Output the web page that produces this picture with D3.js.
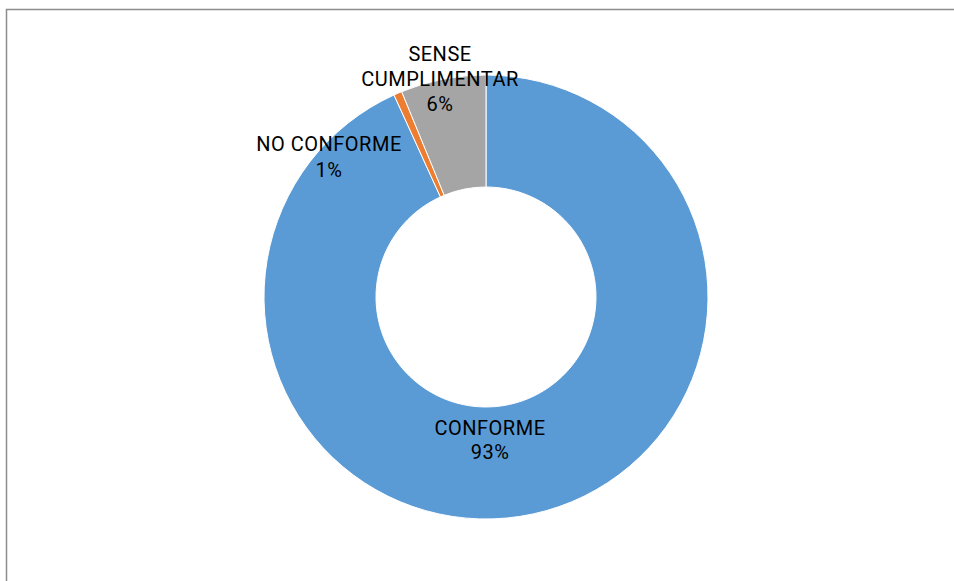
<!DOCTYPE html>
<html>
<head>
<meta charset="utf-8">
<script src="https://cdn.jsdelivr.net/npm/d3@7"></script>
<style>
  html, body { margin: 0; padding: 0; background: #fff; }
  svg { display: block; }
</style>
</head>
<body>
<svg id="chart" width="954" height="581"></svg>
<script>
// Data
const categories = ["CONFORME", "NO CONFORME", "SENSE CUMPLIMENTAR"];
const values = [93.2, 0.6, 6.2];
const colors = ["#5B9BD5", "#ED7D31", "#A5A5A5"];
const labelLines = [["CONFORME"], ["NO CONFORME"], ["SENSE", "CUMPLIMENTAR"]];

const svg = d3.select("#chart");
const cx = 486, cy = 297;
const outerR = 222, innerR = 110;

// chart area frame (only left & top visible)
svg.append("rect")
  .attr("x", 6.5).attr("y", 9.5)
  .attr("width", 1000).attr("height", 700)
  .attr("fill", "none")
  .attr("stroke", "#8c8c8c")
  .attr("stroke-width", 1.5);

const data = categories.map((c, i) => ({ cat: c, value: values[i], color: colors[i], lines: labelLines[i] }));
const total = d3.sum(values);

const pie = d3.pie().sort(null).value(d => d.value);
const arc = d3.arc().innerRadius(innerR).outerRadius(outerR);

const g = svg.append("g").attr("transform", `translate(${cx},${cy})`);
const arcs = pie(data);

g.selectAll("path.slice")
  .data(arcs)
  .enter().append("path")
  .attr("class", "slice")
  .attr("d", arc)
  .attr("fill", d => d.data.color)
  .attr("stroke", "#fff")
  .attr("stroke-width", 1);

// label placement (relative to donut centre), as Excel placed them
const labelPos = [
  { x: 4, y: 138 },
  { x: -157, y: -146 },
  { x: -46, y: -236 }
];
const lineH = [24, 26, 25];

arcs.forEach((a, i) => {
  const pct = Math.round(a.data.value / total * 100) + "%";
  const lines = a.data.lines.concat([pct]);
  const t = g.append("text")
    .attr("text-anchor", "middle")
    .attr("font-family", "Roboto, 'DejaVu Sans', sans-serif")
    .attr("font-size", "20px")
    .attr("letter-spacing", "0.5px")
    .attr("fill", "#000");
  lines.forEach((ln, j) => {
    t.append("tspan")
      .attr("x", labelPos[i].x)
      .attr("y", labelPos[i].y + j * lineH[i])
      .text(ln);
  });
});
</script>
</body>
</html>
